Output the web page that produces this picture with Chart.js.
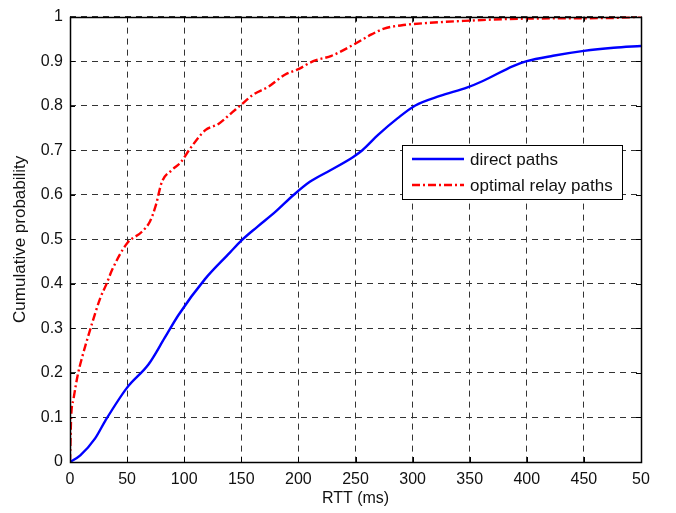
<!DOCTYPE html>
<html>
<head>
<meta charset="utf-8">
<script src="https://cdn.jsdelivr.net/npm/chart.js@4/dist/chart.umd.min.js"></script>
<style>
  html, body { margin: 0; padding: 0; background: #fff; }
  #wrap { width: 676px; height: 513px; }
</style>
</head>
<body>
<div id="wrap"><canvas id="cdfChart" width="676" height="513"></canvas></div>
<script>
// RTT samples (ms) and cumulative probability for each path type
const rttDirect = [0, 9, 22, 31, 50, 69, 83, 95, 118, 140, 150, 164, 180, 196, 210, 228, 248, 256, 270, 287, 302, 324, 348, 362, 388, 400, 423, 450, 476, 500];
const cdfDirect = [0, 0.015, 0.053, 0.093, 0.167, 0.22, 0.279, 0.33, 0.41, 0.47, 0.497, 0.528, 0.562, 0.60, 0.629, 0.655, 0.685, 0.70, 0.735, 0.772, 0.80, 0.822, 0.841, 0.856, 0.889, 0.90, 0.912, 0.923, 0.930, 0.934];

const rttRelay = [0, 1, 3, 7, 10.5, 18, 26.5, 32, 37, 50, 63, 70, 75, 80.5, 89, 97, 105, 118.5, 130, 142, 149, 160, 174, 188.5, 200, 213, 229, 249, 264, 275, 292, 315, 342, 400, 476, 500];
const cdfRelay = [0, 0.1, 0.14, 0.198, 0.234, 0.30, 0.368, 0.40, 0.432, 0.491, 0.517, 0.54, 0.575, 0.629, 0.655, 0.673, 0.703, 0.745, 0.759, 0.785, 0.80, 0.824, 0.843, 0.870, 0.882, 0.90, 0.912, 0.938, 0.96, 0.973, 0.981, 0.986, 0.990, 0.9955, 0.997, 1.0];

const seriesLabels = ['direct paths', 'optimal relay paths'];
const xTickLabels = ['0', '50', '100', '150', '200', '250', '300', '350', '400', '450', '50'];
const yTickLabels = ['0', '0.1', '0.2', '0.3', '0.4', '0.5', '0.6', '0.7', '0.8', '0.9', '1'];

const FONT = '"Liberation Sans", Arial, sans-serif';
const toPoints = (xs, ys) => xs.map((x, i) => ({ x: x, y: ys[i] }));

// box around the axes plus inward tick marks on all four sides
const frame = {
  id: 'frame',
  afterDatasetsDraw(chart) {
    const { ctx, chartArea: a, scales } = chart;
    ctx.save();
    ctx.strokeStyle = '#000';
    ctx.lineWidth = 1;
    ctx.setLineDash([]);
    ctx.beginPath();
    scales.x.ticks.forEach(t => {
      const px = Math.round(scales.x.getPixelForValue(t.value)) + 0.5;
      ctx.moveTo(px, a.bottom); ctx.lineTo(px, a.bottom - 5);
      ctx.moveTo(px, a.top); ctx.lineTo(px, a.top + 5);
    });
    scales.y.ticks.forEach(t => {
      const py = Math.round(scales.y.getPixelForValue(t.value)) + 0.5;
      ctx.moveTo(a.left, py); ctx.lineTo(a.left + 5, py);
      ctx.moveTo(a.right, py); ctx.lineTo(a.right - 5, py);
    });
    ctx.stroke();
    ctx.lineWidth = 1.5;
    ctx.strokeRect(Math.round(a.left) + 0.5, Math.round(a.top) + 0.5,
                   Math.round(a.right - a.left), Math.round(a.bottom - a.top));
    ctx.restore();
  }
};

// legend box drawn inside the axes
const insideLegend = {
  id: 'insideLegend',
  afterDraw(chart) {
    const { ctx } = chart;
    const x = 402, y = 145, w = 220, h = 54;
    ctx.save();
    ctx.fillStyle = '#fff';
    ctx.fillRect(x, y, w, h);
    ctx.strokeStyle = '#000';
    ctx.lineWidth = 1;
    ctx.setLineDash([]);
    ctx.strokeRect(x + 0.5, y + 0.5, w, h);
    ctx.font = '17px ' + FONT;
    ctx.textBaseline = 'middle';
    chart.data.datasets.forEach((ds, i) => {
      const ly = y + 14 + i * 26;
      ctx.strokeStyle = ds.borderColor;
      ctx.lineWidth = ds.borderWidth;
      ctx.setLineDash(ds.borderDash || []);
      ctx.beginPath();
      ctx.moveTo(x + 10, ly);
      ctx.lineTo(x + 62, ly);
      ctx.stroke();
      ctx.fillStyle = '#111';
      ctx.fillText(ds.label, x + 68, ly + 1);
    });
    ctx.restore();
  }
};

new Chart(document.getElementById('cdfChart'), {
  type: 'scatter',
  data: {
    datasets: [
      {
        label: seriesLabels[0],
        data: toPoints(rttDirect, cdfDirect),
        showLine: true,
        borderColor: '#0000ff',
        borderWidth: 2.4,
        pointRadius: 0,
        cubicInterpolationMode: 'monotone'
      },
      {
        label: seriesLabels[1],
        data: toPoints(rttRelay, cdfRelay),
        showLine: true,
        borderColor: '#ff0000',
        borderWidth: 2.4,
        borderDash: [8, 3, 2, 3],
        pointRadius: 0,
        cubicInterpolationMode: 'monotone'
      }
    ]
  },
  options: {
    responsive: false,
    animation: false,
    layout: { padding: { left: 0, right: 35, top: 13, bottom: 0 } },
    plugins: {
      legend: { display: false },
      tooltip: { enabled: false }
    },
    scales: {
      x: {
        type: 'linear',
        min: 0,
        max: 500,
        afterBuildTicks: s => { s.ticks = xTickLabels.map((_, i) => ({ value: i * 50 })); },
        afterFit: s => { s.height = 51; },
        ticks: {
          autoSkip: false,
          maxRotation: 0,
          padding: 8,
          color: '#111',
          font: { family: FONT, size: 16 },
          callback: (v, i) => xTickLabels[i]
        },
        grid: { color: '#333', lineWidth: 1, drawTicks: false },
        border: { display: false, dash: [6, 5] },
        title: {
          display: true,
          text: 'RTT (ms)',
          color: '#111',
          font: { family: FONT, size: 16 },
          padding: { top: 0, bottom: 5 }
        }
      },
      y: {
        min: 0,
        max: 1,
        afterBuildTicks: s => { s.ticks = yTickLabels.map((_, i) => ({ value: i / 10 })); },
        afterFit: s => { s.width = 70; },
        ticks: {
          autoSkip: false,
          padding: 7,
          color: '#111',
          font: { family: FONT, size: 16 },
          callback: (v, i) => yTickLabels[i]
        },
        grid: { color: '#333', lineWidth: 1, drawTicks: false },
        border: { display: false, dash: [6, 5] },
        title: {
          display: true,
          text: 'Cumulative probability',
          color: '#111',
          font: { family: FONT, size: 17 },
          padding: { top: 10, bottom: 0 }
        }
      }
    }
  },
  plugins: [frame, insideLegend]
});
</script>
</body>
</html>
